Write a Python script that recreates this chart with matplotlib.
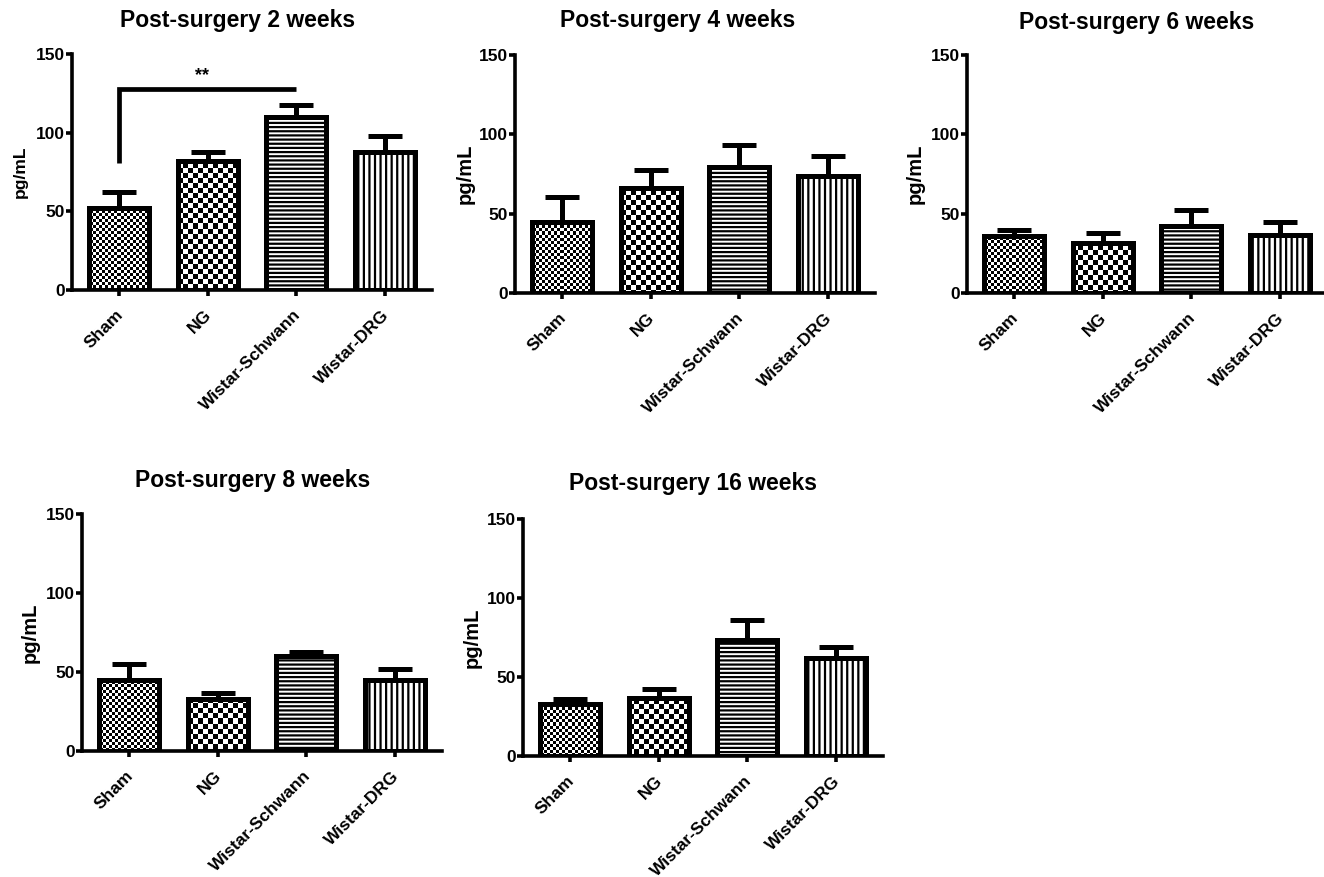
import numpy as np
import matplotlib
matplotlib.use("Agg")
import matplotlib.pyplot as plt
from matplotlib.transforms import ScaledTranslation

plt.rcParams['font.family'] = ['Liberation Sans', 'DejaVu Sans']
plt.rcParams['font.weight'] = 'bold'
plt.rcParams['hatch.linewidth'] = 1.6

W, H = 1324, 877
DPI = 100

categories = ["Sham", "NG", "Wistar-Schwann", "Wistar-DRG"]
titles = ["Post-surgery 2 weeks", "Post-surgery 4 weeks", "Post-surgery 6 weeks",
          "Post-surgery 8 weeks", "Post-surgery 16 weeks"]

means_2w = [52, 82, 110, 88]
err_2w = [10, 6, 7.5, 10]
means_4w = [45, 66, 79.5, 74]
err_4w = [15.5, 11.5, 13.5, 12.5]
means_6w = [36, 31.5, 42, 36.5]
err_6w = [4, 6.3, 10, 8.5]
means_8w = [45, 33, 60, 45]
err_8w = [10, 4, 2.6, 7]
means_16w = [33, 36.7, 73.4, 62]
err_16w = [3, 5.7, 12.6, 7]

all_means = [means_2w, means_4w, means_6w, means_8w, means_16w]
all_errs = [err_2w, err_4w, err_6w, err_8w, err_16w]

yticks = [0, 50, 100, 150]
sig_label = "**"
sig_pair = (0, 2)
sig_y = 128
sig_low = 81

# layout in pixels: left spine x, top (150) y, bottom (0) y
layout = [(72, 54, 290), (515, 55, 293), (967, 55, 293), (82, 514, 751), (523, 519, 756)]
title_pos = [(238, 21), (678, 21), (1137, 22), (253, 480), (693, 484)]
ylabel_x = [20, 465, 915, 30, 472]
ylabel_size = [12.5, 14.5, 14.5, 14.5, 14.5]
AX_W = 360

fig = plt.figure(figsize=(W / DPI, H / DPI), dpi=DPI)

def checker(h, w, c):
    i, j = np.indices((h, w))
    return ((i // c + j // c) % 2).astype(float)

shift = ScaledTranslation(0.07, 0, fig.dpi_scale_trans)

for k in range(5):
    lx, ty, by = layout[k]
    ax = fig.add_axes([lx / W, 1 - by / H, AX_W / W, (by - ty) / H])
    x = np.arange(len(categories))
    means = all_means[k]
    errs = all_errs[k]
    hatches = [None, None, '----', '|||']
    bars = ax.bar(x, means, width=0.68, facecolor='none', edgecolor='black',
                  linewidth=3.6, zorder=3)
    for b, h in zip(bars, hatches):
        if h:
            b.set_hatch(h)
    hpx, wpx = by - ty, AX_W
    for bi, cell in [(0, 3), (1, 5)]:
        tex = checker(hpx, wpx, cell)
        im = ax.imshow(tex, cmap='gray', extent=(0, 1, 0, 1), transform=ax.transAxes,
                       interpolation='nearest', aspect='auto', zorder=2, vmin=0, vmax=1)
        im.set_clip_path(bars[bi])
    ax.errorbar(x, means, yerr=[np.zeros(len(means)), errs], fmt='none', ecolor='black',
                elinewidth=3.6, capsize=12.5, capthick=3.6, zorder=4)
    ax.set_xlim(-0.53, 3.53)
    ax.set_ylim(0, 150)
    ax.set_yticks(yticks)
    ax.set_yticklabels([str(t) for t in yticks], fontsize=12.5, fontweight='bold')
    ax.set_xticks(x)
    ax.set_xticklabels(categories, rotation=45, ha='right', fontsize=12.5, fontweight='bold')
    ax.tick_params(axis='both', direction='out', length=4.5, width=2.6, pad=0.5)
    ax.tick_params(axis='x', pad=8)
    for lbl in ax.get_xticklabels():
        lbl.set_transform(lbl.get_transform() + shift)
    for s in ['top', 'right']:
        ax.spines[s].set_visible(False)
    for s in ['left', 'bottom']:
        ax.spines[s].set_linewidth(2.6)
    ax.set_facecolor('none')
    tx, tyy = title_pos[k]
    fig.text(tx / W, 1 - tyy / H, titles[k], ha='center', va='center',
             fontsize=16.5, fontweight='bold')
    fig.text(ylabel_x[k] / W, 1 - ((ty + by) / 2) / H, "pg/mL", rotation=90,
             ha='center', va='center', fontsize=ylabel_size[k], fontweight='bold')
    if k == 0:
        a, b2 = sig_pair
        ax.plot([a, a, b2], [sig_low, sig_y, sig_y], color='black', linewidth=3.4,
                solid_capstyle='butt', solid_joinstyle='miter', clip_on=False, zorder=5)
        ax.text((a + b2) / 2 - 0.06, sig_y + 3, sig_label, ha='center', va='bottom',
                fontsize=13, fontweight='bold')

fig.savefig("out.png", dpi=DPI)
